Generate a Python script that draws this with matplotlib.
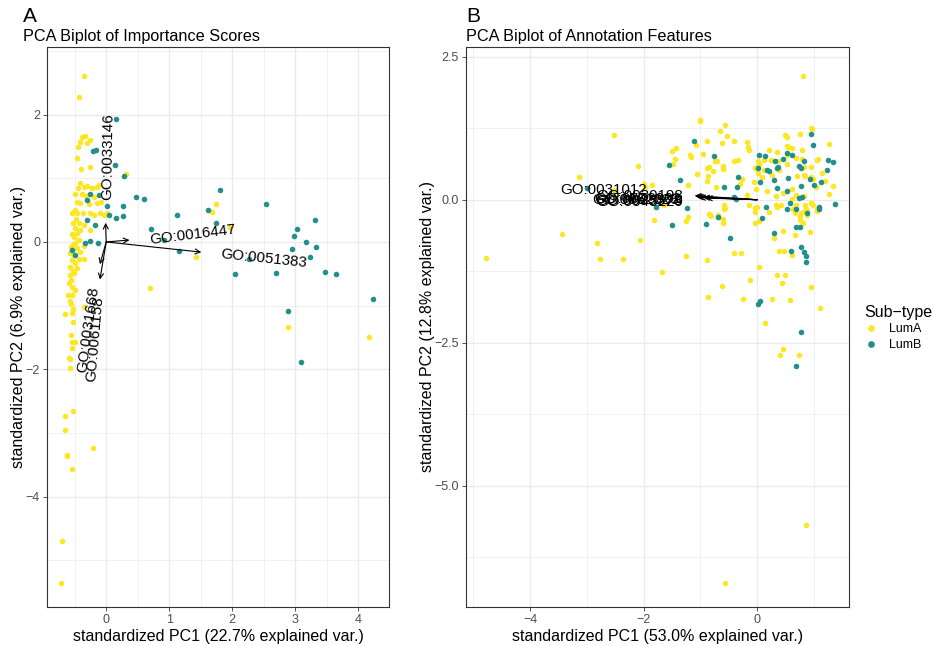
import numpy as np
import matplotlib
matplotlib.use("Agg")
import matplotlib.pyplot as plt
from matplotlib.lines import Line2D

plt.rcParams['font.family'] = ['Liberation Sans', 'DejaVu Sans']

LUMA = "#FDE725"
LUMB = "#21908C"
GRID = "#EBEBEB"

# ---- panel A: importance scores (standardized PC1, PC2) ----
imp_luma = np.array([
    (-0.35, 2.61), (-0.43, 2.27), (-0.33, 1.67), (-0.38, 1.64), (-0.41, 1.57), (-0.31, 1.56),
    (-0.25, 1.60), (-0.44, 1.49), (-0.46, 1.32), (-0.40, 1.15), (-0.25, 1.18), (0.32, 1.06),
    (-0.42, 0.93), (-0.44, 0.84), (-0.35, 0.87), (-0.30, 0.88), (-0.22, 0.85), (-0.15, 0.87),
    (-0.12, 0.89), (-0.49, 0.76), (-0.38, 0.75), (-0.32, 0.72), (-0.20, 0.71), (-0.41, 0.61),
    (-0.27, 0.60), (-0.14, 0.61), (-0.09, 0.63), (-0.54, 0.46), (-0.46, 0.45), (-0.37, 0.45),
    (-0.26, 0.45), (-0.20, 0.42), (-0.10, 0.45), (-0.04, 0.43), (0.02, 0.45), (-0.43, 0.29),
    (-0.35, 0.27), (-0.49, 0.22), (-0.41, 0.19), (-0.25, 0.19), (-0.51, 0.08), (-0.43, 0.03),
    (-0.52, -0.05), (-0.47, -0.10), (-0.41, -0.15), (-0.35, -0.07), (-0.57, -0.18), (-0.51, -0.20),
    (-0.54, -0.28), (-0.49, -0.33), (-0.57, -0.39), (-0.46, -0.41), (-0.35, -0.27), (-0.58, -0.52),
    (-0.51, -0.49), (-0.56, -0.60), (-0.59, -0.65), (-0.43, -0.26), (-0.61, -0.84), (-0.55, -0.83),
    (-0.35, -1.02), (-0.56, -0.97), (-0.65, -1.13), (-0.52, -1.06), (-0.54, -1.12), (-0.53, -1.25),
    (-0.56, -1.46), (-0.49, -1.57), (-0.55, -1.57), (-0.54, -1.67), (-0.59, -1.82), (-0.57, -1.83),
    (-0.57, -1.98), (-0.65, -2.73), (-0.53, -2.65), (-0.65, -2.95), (0.69, -0.73), (-0.21, -3.23),
    (-0.63, -3.34), (-0.62, -3.36), (-0.55, -3.56), (-0.70, -4.69), (-0.71, -5.36),
    (1.74, 0.59), (1.68, 0.47), (1.96, 0.24), (1.42, -0.24), (2.88, -1.33), (4.17, -1.49),
    (-0.47, 0.62), (-0.50, 0.50), (-0.48, 0.36), (-0.53, 0.30), (-0.46, 0.14), (-0.55, 0.12),
    (-0.50, -0.02), (-0.56, -0.08), (-0.53, -0.45), (-0.55, -0.70), (-0.50, -0.76), (-0.58, -0.92),
])
imp_lumb = np.array([
    (0.16, 1.93), (-0.21, 1.43), (-0.16, 1.44), (0.14, 1.21), (0.29, 1.04), (0.48, 0.71),
    (0.60, 0.68), (-0.26, 0.76), (-0.30, 0.66), (-0.12, 0.74), (0.02, 0.57), (0.26, 0.57),
    (0.04, 0.43), (0.15, 0.37), (0.27, 0.41), (-0.30, 0.35), (-0.18, 0.26), (-0.34, -0.01),
    (-0.25, 0.02), (-0.13, -0.02), (0.71, 0.20), (-0.54, -0.13), (-0.49, -0.20), (1.81, 0.82),
    (1.61, 0.50), (1.74, 0.30), (1.13, 0.43), (0.91, 0.03), (1.15, -0.14), (2.53, 0.59),
    (2.05, -0.50), (2.27, -0.27), (2.70, -0.48), (2.89, -1.08), (3.03, 0.20), (2.98, 0.09),
    (2.95, -0.11), (3.32, 0.34), (3.18, 0.00), (3.33, -0.08), (3.24, -0.23), (3.47, -0.47),
    (3.65, -0.50), (4.23, -0.90), (3.10, -1.88),
])
imp_vars = ["GO:0033146", "GO:0016447", "GO:0051383", "GO:0031668", "GO:0061158"]
imp_tips = [(-0.01, 0.30), (0.37, 0.03), (1.51, -0.16), (-0.10, -0.35), (-0.10, -0.59)]
imp_label_pos = [(0.03, 1.34), (1.37, 0.11), (2.50, -0.26), (-0.28, -1.38), (-0.18, -1.53)]
imp_label_rot = [89, 7, -6, 82, 85]

# ---- panel B: annotation features ----
ann_luma = np.array([
    (-1.01, 1.37), (-1.00, 1.40), (-0.56, 1.30), (0.95, 1.26), (0.96, 1.24), (-2.53, 1.14),
    (-0.65, 1.21), (-0.53, 1.11), (0.50, 1.14), (0.52, 1.10), (0.76, 1.15), (1.26, 0.98),
    (-0.89, 1.02), (-0.41, 1.02), (-0.61, 1.00), (-0.17, 1.01), (-0.16, 0.93), (-0.14, 0.87),
    (-1.08, 0.95), (-1.50, 0.86), (-1.43, 0.90), (-1.19, 0.78), (-1.17, 0.75), (-0.95, 0.80),
    (-1.44, 0.71), (-0.71, 0.67), (-0.75, 0.67), (-0.41, 0.67), (-0.33, 0.69), (-2.10, 0.59),
    (-1.49, 0.62), (-0.88, 0.55), (-0.85, 0.58), (-0.78, 0.51), (-0.60, 0.59), (-0.60, 0.54),
    (-1.06, 0.45), (-0.86, 0.41), (-0.27, 0.37), (-3.13, 0.39), (-0.88, 0.33), (-0.72, 0.23),
    (-1.21, 0.26), (-1.99, 0.27), (-1.97, 0.23), (-1.86, 0.26), (-2.52, 0.17), (-0.30, 0.28),
    (-1.64, -0.10), (-0.58, -0.09), (-0.56, -0.15), (-0.58, -0.17), (-0.14, -0.09), (-3.43, -0.60),
    (-2.82, -0.75), (-2.07, -0.71), (-2.77, -1.03), (-2.36, -1.04), (-1.82, -0.35), (-1.22, -0.30),
    (-1.25, -0.38), (-0.85, -0.25), (-0.82, -0.28), (-0.68, -0.27), (-0.69, -0.30), (-0.60, -0.34),
    (-0.60, -0.40), (-1.26, -0.98), (-0.89, -1.05), (-0.41, -0.94), (-0.29, -0.94), (-1.68, -1.26),
    (-0.87, -1.70), (-0.61, -1.50), (-0.24, -1.73), (-0.12, -1.41), (0.04, -1.18), (0.14, -2.16),
    (0.26, -1.73), (0.35, -1.32), (0.50, -1.31), (0.44, -1.46), (0.58, -1.75), (0.95, -1.52),
    (1.11, -1.89), (0.45, -2.61), (0.41, -2.72), (0.73, -2.71), (0.29, -0.67), (0.45, -0.54),
    (0.38, -0.90), (0.48, -0.90), (0.62, -0.97), (0.67, -0.61), (0.93, -0.57), (0.88, -0.26),
    (0.85, -0.19), (0.75, -0.29), (0.76, -0.36), (0.81, -0.40), (0.03, -0.38), (-0.04, -0.22),
    (-0.01, -0.13), (0.21, -0.22), (0.35, -0.12), (0.42, -0.10), (0.63, -0.17), (0.66, -0.23),
    (1.05, -0.17), (0.85, -0.09), (-0.04, -0.41), (-0.03, -0.15),
    (0.21, 0.87), (0.35, 0.84), (0.52, 0.94), (0.55, 0.93), (0.62, 0.90), (0.80, 0.87),
    (0.12, 0.70), (0.01, 0.67), (0.04, 0.62), (-0.01, 0.58), (0.24, 0.70), (0.36, 0.68),
    (0.52, 0.78), (0.55, 0.80), (0.69, 0.73), (0.79, 0.71), (0.95, 0.57), (1.06, 0.70),
    (1.08, 0.71), (0.82, 0.58), (0.53, 0.62), (0.39, 0.52), (0.12, 0.52), (0.26, 0.44),
    (-0.03, 0.55), (0.02, 0.47), (0.70, 0.42), (0.82, 0.44), (0.85, 0.41), (0.95, 0.39),
    (0.98, 0.36), (1.14, 0.47), (1.20, 0.32), (1.33, 0.24), (1.26, 0.10), (1.04, 0.22),
    (0.62, 0.19), (0.52, 0.16), (0.34, 0.07), (0.45, 0.12), (0.17, 0.15), (0.08, 0.40),
    (0.68, 0.09), (0.82, 0.06), (0.95, -0.05), (0.98, -0.09), (0.62, 0.01), (-0.02, 0.19),
    (-0.05, 0.31), (-0.17, 0.09), (0.34, -0.10), (0.68, -0.09), (0.86, -0.16), (0.88, -0.20),
    (0.77, -0.24), (1.05, -0.20),
    (-4.78, -1.01), (0.81, 2.17), (0.86, -5.68), (-0.56, -6.70),
])
ann_lumb = np.array([
    (0.95, 1.15), (-1.12, 1.03), (0.99, 0.96), (-0.76, 0.77), (-1.56, 0.61), (0.04, 0.79),
    (0.14, 0.76), (0.61, 0.79), (0.52, 0.82), (0.31, 0.67), (0.74, 0.59), (0.77, 0.55),
    (1.25, 0.70), (1.33, 0.66), (0.35, 0.55), (0.18, 0.52), (0.21, 0.50), (0.02, 0.55),
    (0.55, 0.38), (0.29, 0.35), (0.06, 0.31), (1.23, 0.52), (1.01, 0.26), (1.13, 0.31),
    (-1.35, 0.35), (-0.34, 0.40), (-0.35, 0.22), (-0.59, 0.22), (0.35, 0.21), (0.52, 0.15),
    (0.73, 0.03), (0.80, 0.05), (-0.41, 0.05), (-0.37, 0.02), (-2.99, 0.20), (-1.24, -0.15),
    (-1.79, -0.13), (-0.68, -0.30), (-0.90, -0.43), (-1.50, -0.45), (0.15, -0.12), (0.52, -0.17),
    (0.68, -0.16), (1.10, -0.13), (1.09, -0.16), (1.37, -0.08), (0.09, -0.32), (0.88, -0.24),
    (0.69, -0.47), (0.76, -0.47), (0.30, -0.59), (-0.48, -0.67), (0.60, -0.90), (0.77, -0.83),
    (0.82, -0.92), (0.86, -0.99), (0.86, -1.08), (0.01, -1.82), (0.06, -1.77), (0.77, -2.32),
    (0.68, -2.90), (0.46, 0.72), (0.36, 0.57), (0.83, 0.68), (0.93, 0.37), (0.77, 0.24),
    (0.58, -0.06),
])
ann_vars = ["GO:0031012", "GO:0030198", "GO:0043062", "GO:0005578", "GO:0062023", "GO:0045229"]
ann_tips = [(-1.10, 0.07), (-1.08, 0.06), (-1.05, 0.05), (-1.02, 0.04), (-0.95, 0.04), (-0.90, 0.03)]
# right end of each label
ann_label_pos = [(-1.94, 0.17), (-1.30, 0.06), (-1.34, 0.02), (-1.32, -0.02), (-1.38, 0.00), (-1.30, -0.04)]


def style_ax(ax, xmaj, xmin, ymaj, ymin):
    ax.set_xticks(xmaj)
    ax.set_xticks(xmin, minor=True)
    ax.set_yticks(ymaj)
    ax.set_yticks(ymin, minor=True)
    ax.grid(which='major', color=GRID, lw=1.0, zorder=0)
    ax.grid(which='minor', color=GRID, lw=0.5, zorder=0)
    ax.set_axisbelow(True)
    ax.tick_params(which='minor', length=0)
    ax.tick_params(which='major', length=3, width=0.6, color='#333333',
                   labelsize=9, labelcolor='#4D4D4D', pad=2)
    for s in ax.spines.values():
        s.set_color('#333333')
        s.set_linewidth(0.8)


def draw_arrow(ax, tip):
    ax.annotate("", xy=tip, xytext=(0, 0),
                arrowprops=dict(arrowstyle='->', color='black', lw=0.8,
                                shrinkA=0, shrinkB=0, mutation_scale=9))


fig = plt.figure(figsize=(9.37, 6.46), dpi=100)
W, H = 937, 646

# panel A
axA = fig.add_axes([47 / W, 1 - 607 / H, 342 / W, 560 / H])
axA.scatter(imp_luma[:, 0], imp_luma[:, 1], s=16, color=LUMA, lw=0, zorder=2)
axA.scatter(imp_lumb[:, 0], imp_lumb[:, 1], s=16, color=LUMB, lw=0, zorder=2)
for tip in imp_tips:
    draw_arrow(axA, tip)
for name, pos, rot in zip(imp_vars, imp_label_pos, imp_label_rot):
    axA.text(pos[0], pos[1], name, rotation=rot, ha='center', va='center',
             rotation_mode='anchor', fontsize=10.9, zorder=4)
axA.set_xlim(-0.94, 4.49)
axA.set_ylim(-5.73, 3.06)
style_ax(axA, [0, 1, 2, 3, 4], [-0.5, 0.5, 1.5, 2.5, 3.5],
         [-4, -2, 0, 2], [-5, -3, -1, 1, 3])
axA.set_xlabel("standardized PC1 (22.7% explained var.)", fontsize=11.5, labelpad=2)
axA.set_ylabel("standardized PC2 (6.9% explained var.)", fontsize=11.5, labelpad=0)

# panel B
axB = fig.add_axes([466 / W, 1 - 607 / H, 383 / W, 560 / H])
axB.scatter(ann_luma[:, 0], ann_luma[:, 1], s=16, color=LUMA, lw=0, zorder=2)
axB.scatter(ann_lumb[:, 0], ann_lumb[:, 1], s=16, color=LUMB, lw=0, zorder=2)
for tip in ann_tips:
    draw_arrow(axB, tip)
for name, pos in zip(ann_vars, ann_label_pos):
    axB.text(pos[0], pos[1], name, ha='right', va='center', fontsize=10.9, zorder=4)
axB.set_xlim(-5.13, 1.62)
axB.set_ylim(-7.12, 2.67)
style_ax(axB, [-4, -2, 0], [-5, -3, -1, 1],
         [-5.0, -2.5, 0.0, 2.5], [-6.25, -3.75, -1.25, 1.25])
axB.set_yticklabels(["\u22125.0", "\u22122.5", "0.0", "2.5"])
axB.set_xlabel("standardized PC1 (53.0% explained var.)", fontsize=11.5, labelpad=2)
axB.set_ylabel("standardized PC2 (12.8% explained var.)", fontsize=11.5, labelpad=0)

# titles and tags
fig.text(23 / W, 1 - 17 / H, "A", fontsize=15, va='center', ha='left')
fig.text(23 / W, 1 - 37 / H, "PCA Biplot of Importance Scores", fontsize=11.7, va='center', ha='left')
fig.text(466 / W, 1 - 17 / H, "B", fontsize=15, va='center', ha='left')
fig.text(466 / W, 1 - 37 / H, "PCA Biplot of Annotation Features", fontsize=11.7, va='center', ha='left')

# legend
handles = [Line2D([], [], ls='', marker='o', ms=3.8, mfc=LUMA, mec=LUMA),
           Line2D([], [], ls='', marker='o', ms=3.8, mfc=LUMB, mec=LUMB)]
leg = fig.legend(handles, ["LumA", "LumB"], title="Sub\u2212type", loc='center left',
                 bbox_to_anchor=(859 / W, 1 - 328 / H), frameon=False, fontsize=9,
                 title_fontsize=11.5, handletextpad=0.8, labelspacing=0.3, handlelength=1.2,
                 borderaxespad=0)
leg._legend_box.align = "left"

fig.savefig("out.png", dpi=100)
